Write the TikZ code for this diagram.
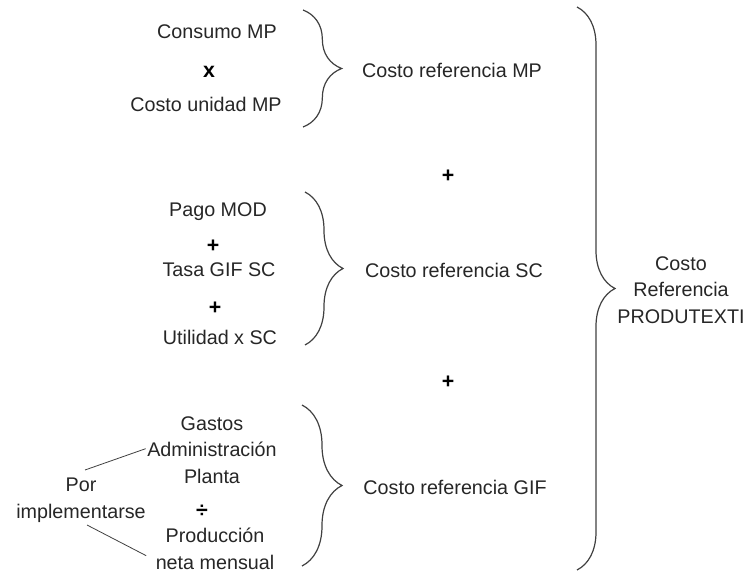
\documentclass[tikz,border=0pt]{standalone}
\usepackage{fontspec}
\setmainfont{Liberation Sans}
\usepackage{tikz}
\usetikzlibrary{decorations.pathreplacing, calc}

\begin{document}
\begin{tikzpicture}[x=0.75pt, y=-0.75pt,
    txt/.style={font=\fontsize{14.8}{19.9}\selectfont, inner sep=2pt, align=center, text=black!85},
    opsign/.style={font=\fontsize{16}{18}\selectfont\bfseries, inner sep=1pt, text=black},
    bracedec/.style={decorate, decoration={brace, amplitude=#1}, draw=black!75, line width=0.9pt},
    tieline/.style={draw=black!75, semithick}]
  \useasboundingbox (0,0) rectangle (745,573);

  % materia prima
  \node[txt] (cmp) at (217, 32) {Consumo MP};
  \node[opsign] (xsign) at (209, 72) {x};
  \node[txt] (cump) at (206, 104) {Costo unidad MP};
  \coordinate (b1top) at (303, 10);
  \coordinate (b1bot) at (303, 127);
  \draw[bracedec=29pt] (b1top) -- (b1bot);
  \node[txt] (crmp) at (452, 70) {Costo referencia MP};

  \node[opsign] (plusa) at (448, 176) {+};

  % servicio de confeccion
  \node[txt] (pmod) at (218, 212) {Pago MOD};
  \node[opsign] (plusb) at (213, 246) {+};
  \node[txt] (tgif) at (219, 270) {Tasa GIF SC};
  \node[opsign] (plusc) at (215, 308) {+};
  \node[txt] (usc) at (220, 337) {Utilidad x SC};
  \coordinate (b2top) at (305, 192);
  \coordinate (b2bot) at (305, 345);
  \draw[bracedec=28.5pt] (b2top) -- (b2bot);
  \node[txt] (crsc) at (454, 270) {Costo referencia SC};

  \node[opsign] (plusd) at (448, 382) {+};

  % gastos indirectos
  \node[txt] (gap) at (212, 450) {Gastos\\Administración\\Planta};
  \node[opsign] (divsign) at (202, 511) {÷};
  \node[txt] (pnm) at (215, 549) {Producción\\neta mensual};
  \node[txt] (impl) at (81, 500) {Por\\implementarse};
  \coordinate (tieup) at (85, 470);
  \coordinate (tielow) at (87, 525);
  \draw[tieline] (tieup) -- ([xshift=1pt,yshift=1pt]gap.west);
  \draw[tieline] (tielow) -- ([xshift=-5pt,yshift=-5pt]pnm.west);
  \coordinate (b3top) at (302, 405);
  \coordinate (b3bot) at (302, 566);
  \draw[bracedec=30pt] (b3top) -- (b3bot);
  \node[txt] (crgif) at (455, 487) {Costo referencia GIF};

  % total
  \coordinate (bigtop) at (577, 7);
  \coordinate (bigbot) at (577, 570);
  \draw[bracedec=28.5pt] (bigtop) -- (bigbot);
  \node[txt] (total) at (681, 290) {Costo\\Referencia\\PRODUTEXTI};
\end{tikzpicture}
\end{document}
